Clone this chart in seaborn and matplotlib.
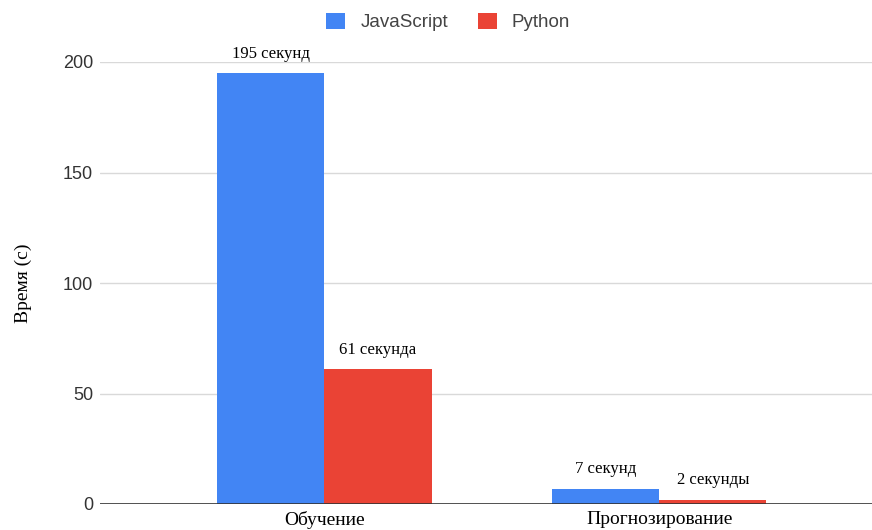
import matplotlib
matplotlib.use("Agg")
import matplotlib.pyplot as plt
import seaborn as sns
import pandas as pd
from matplotlib.patches import Patch

categories = ["Обучение", "Прогнозирование"]
series_names = ["JavaScript", "Python"]
js_values = [195, 7]
py_values = [61, 2]
js_labels = ["195 секунд", "7 секунд"]
py_labels = ["61 секунда", "2 секунды"]
y_ticks = [0, 50, 100, 150, 200]
y_label = "Время (с)"

colors = {"JavaScript": "#4285F4", "Python": "#EA4335"}

df = pd.DataFrame({
    "cat": categories * 2,
    "series": [series_names[0]] * 2 + [series_names[1]] * 2,
    "value": js_values + py_values,
})

sns.set_theme(style="white")
plt.rcParams["font.family"] = ["Liberation Sans", "DejaVu Sans"]

fig = plt.figure(figsize=(8.72, 5.30), dpi=100)
ax = fig.add_axes([100 / 872, 1 - 504 / 530, 772 / 872, (504 - 62) / 530])

sns.barplot(data=df, x="cat", y="value", hue="series", palette=colors,
            width=0.64, ax=ax, legend=False, saturation=1, linewidth=0)

ax.set_ylim(0, 200)
ax.set_yticks(y_ticks)
ax.set_yticklabels([str(t) for t in y_ticks], fontsize=13, color="#333333")
ax.tick_params(axis="y", length=0, pad=5)
ax.tick_params(axis="x", length=0, pad=5)
ax.set_xticks(range(len(categories)))
ax.set_xticklabels(categories, fontsize=14, family="Liberation Serif", color="black")
ax.set_xlabel("")
ax.set_ylabel(y_label, fontsize=14, family="Liberation Serif", color="black", labelpad=22)

for t in y_ticks[1:]:
    ax.axhline(t, color="#d9d9d9", linewidth=1, zorder=0)
ax.axhline(0, color="#333333", linewidth=1.2, zorder=3)
ax.set_xlim(-0.67, 1.635)

for s in ax.spines.values():
    s.set_visible(False)

labels_all = js_labels + py_labels
for patch, lab in zip(ax.patches, labels_all):
    x = patch.get_x() + patch.get_width() / 2
    h = patch.get_height()
    ax.annotate(lab, (x, h), xytext=(0, 8), textcoords="offset points",
                ha="center", va="bottom", fontsize=12, family="Liberation Serif",
                color="black")

handles = [Patch(facecolor=colors[n], edgecolor="none") for n in series_names]
fig.legend(handles, series_names, loc="center", bbox_to_anchor=(0.514, 1 - 22 / 530),
           ncol=2, frameon=False, fontsize=13.5, handlelength=1.0, handleheight=1.0,
           columnspacing=1.6, handletextpad=0.8, labelcolor="#444444")

fig.savefig("out.png", dpi=100)
